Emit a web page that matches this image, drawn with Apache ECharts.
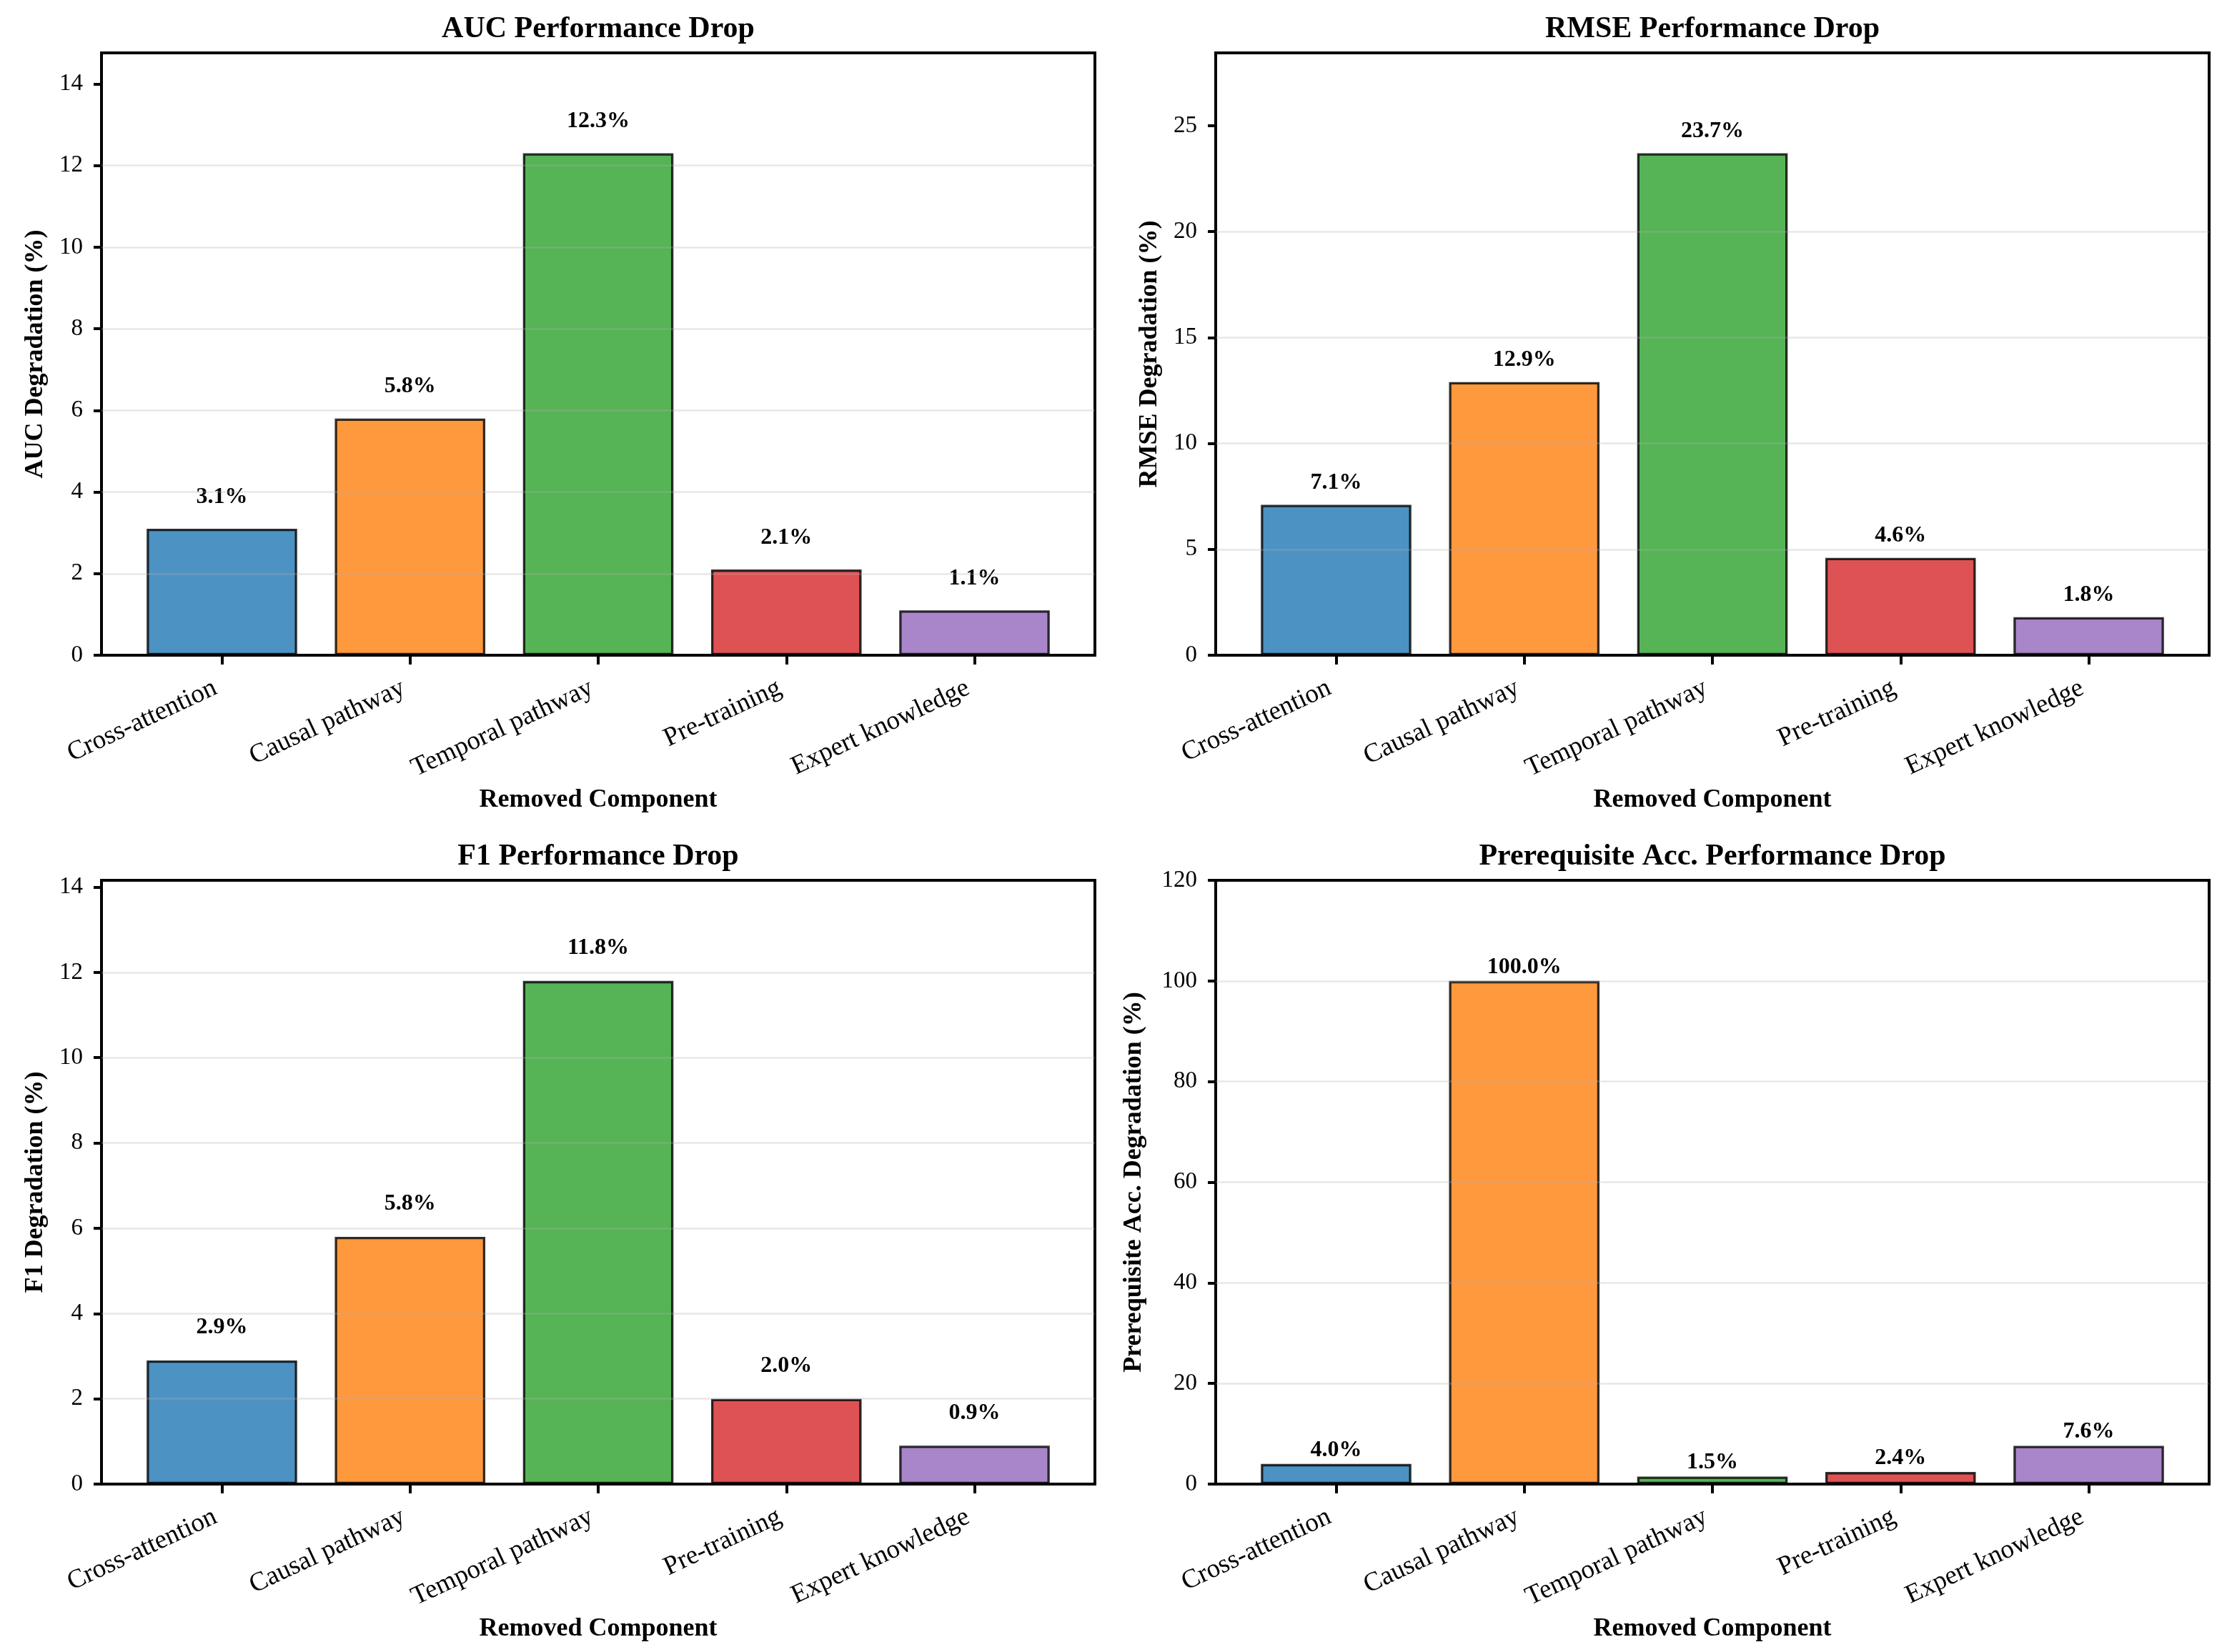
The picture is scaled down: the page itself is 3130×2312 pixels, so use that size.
<!DOCTYPE html>
<html>
<head>
<meta charset="utf-8">
<script src="https://cdn.jsdelivr.net/npm/echarts@6/dist/echarts.min.js"></script>
<style>
html,body{margin:0;padding:0;background:#fff;}
#chart{width:3130px;height:2312px;}
</style>
</head>
<body>
<div id="chart"></div>
<script>
// ---- data ----
const categories = ['Cross-attention', 'Causal pathway', 'Temporal pathway', 'Pre-training', 'Expert knowledge'];
const aucDrop = [3.1, 5.8, 12.3, 2.1, 1.1];
const rmseDrop = [7.1, 12.9, 23.7, 4.6, 1.8];
const f1Drop = [2.9, 5.8, 11.8, 2.0, 0.9];
const prereqDrop = [4.0, 100.0, 1.5, 2.4, 7.6];
const panelTitles = ['AUC Performance Drop', 'RMSE Performance Drop', 'F1 Performance Drop', 'Prerequisite Acc. Performance Drop'];
const yAxisNames = ['AUC Degradation (%)', 'RMSE Degradation (%)', 'F1 Degradation (%)', 'Prerequisite Acc. Degradation (%)'];
const xAxisName = 'Removed Component';
const yTickSteps = [2, 5, 2, 20];

// ---- style / layout ----
const barColors = ['rgba(31,119,180,0.8)', 'rgba(255,127,14,0.8)', 'rgba(44,160,44,0.8)', 'rgba(214,39,40,0.8)', 'rgba(148,103,189,0.8)'];
const FONT = "'Liberation Serif', 'Times New Roman', serif";
const panels = [
  { left: 142, top: 74, width: 1390, height: 843, nameGap: 74 },
  { left: 1701, top: 74, width: 1390, height: 843, nameGap: 74 },
  { left: 142, top: 1232, width: 1390, height: 845, nameGap: 74 },
  { left: 1701, top: 1232, width: 1390, height: 845, nameGap: 96 }
];
const allValues = [aucDrop, rmseDrop, f1Drop, prereqDrop];
const xMin = -0.64, xMax = 4.64;

const grids = [], xAxes = [], yAxes = [], series = [], titles = [];
allValues.forEach((vals, i) => {
  const p = panels[i];
  const yMax = Math.max(...vals) * 1.2;
  const step = yTickSteps[i];
  const yTicks = [];
  for (let t = 0; t <= yMax + 1e-9; t += step) yTicks.push(t);
  const pxPerUnitX = p.width / (xMax - xMin);
  const labelDist = 0.5 / yMax * p.height;

  grids.push({ left: p.left, top: p.top, width: p.width, height: p.height, show: true,
    containLabel: false, outerBoundsMode: 'none',
    borderColor: '#000', borderWidth: 4, backgroundColor: 'transparent', z: 3 });
  titles.push({ text: panelTitles[i], left: p.left + p.width / 2, top: p.top - 54, textAlign: 'center', padding: 0,
    textStyle: { fontFamily: FONT, fontSize: 42, fontWeight: 'bold', color: '#000' } });
  xAxes.push({
    type: 'value', gridIndex: i, min: xMin, max: xMax, position: 'bottom',
    axisLine: { show: false, onZero: false },
    axisTick: { show: true, customValues: [0, 1, 2, 3, 4], length: 13, lineStyle: { color: '#000', width: 4 } },
    axisLabel: { show: true, customValues: [0, 1, 2, 3, 4], formatter: v => categories[Math.round(v)],
      rotate: 25, fontFamily: FONT, fontSize: 37, color: '#000', margin: 40, padding: [0, 10, 0, 0] },
    splitLine: { show: false },
    name: xAxisName, nameLocation: 'middle', nameGap: 185,
    nameTextStyle: { fontFamily: FONT, fontSize: 36, fontWeight: 'bold', color: '#000' }
  });
  yAxes.push({
    type: 'value', gridIndex: i, min: 0, max: yMax, interval: step, z: 4, position: 'left',
    axisLine: { show: false, onZero: false },
    axisTick: { show: true, customValues: yTicks, length: 11, lineStyle: { color: '#000', width: 4 } },
    axisLabel: { show: true, customValues: yTicks, fontFamily: FONT, fontSize: 33, color: '#000', margin: 26 },
    splitLine: { show: true, showMaxLine: false, showMinLine: false, lineStyle: { color: 'rgba(176,176,176,0.3)', width: 2.5 } },
    name: yAxisNames[i], nameLocation: 'middle', nameGap: p.nameGap,
    nameTextStyle: { fontFamily: FONT, fontSize: 36, fontWeight: 'bold', color: '#000' }
  });
  series.push({
    type: 'bar', xAxisIndex: i, yAxisIndex: i, barWidth: 0.8 * pxPerUnitX,
    data: vals.map((v, j) => ({ value: [j, v], itemStyle: { color: barColors[j] } })),
    itemStyle: { borderColor: 'rgba(0,0,0,0.8)', borderWidth: 3.3 },
    label: { show: true, position: 'top', distance: labelDist,
      formatter: prm => prm.value[1].toFixed(1) + '%',
      fontFamily: FONT, fontSize: 32, fontWeight: 'bold', color: '#000' },
    emphasis: { disabled: true },
    animation: false
  });
});

const chart = echarts.init(document.getElementById('chart'), null, { renderer: 'canvas' });
chart.setOption({
  backgroundColor: '#fff',
  animation: false,
  title: titles,
  grid: grids,
  xAxis: xAxes,
  yAxis: yAxes,
  series: series
});
</script>
</body>
</html>
